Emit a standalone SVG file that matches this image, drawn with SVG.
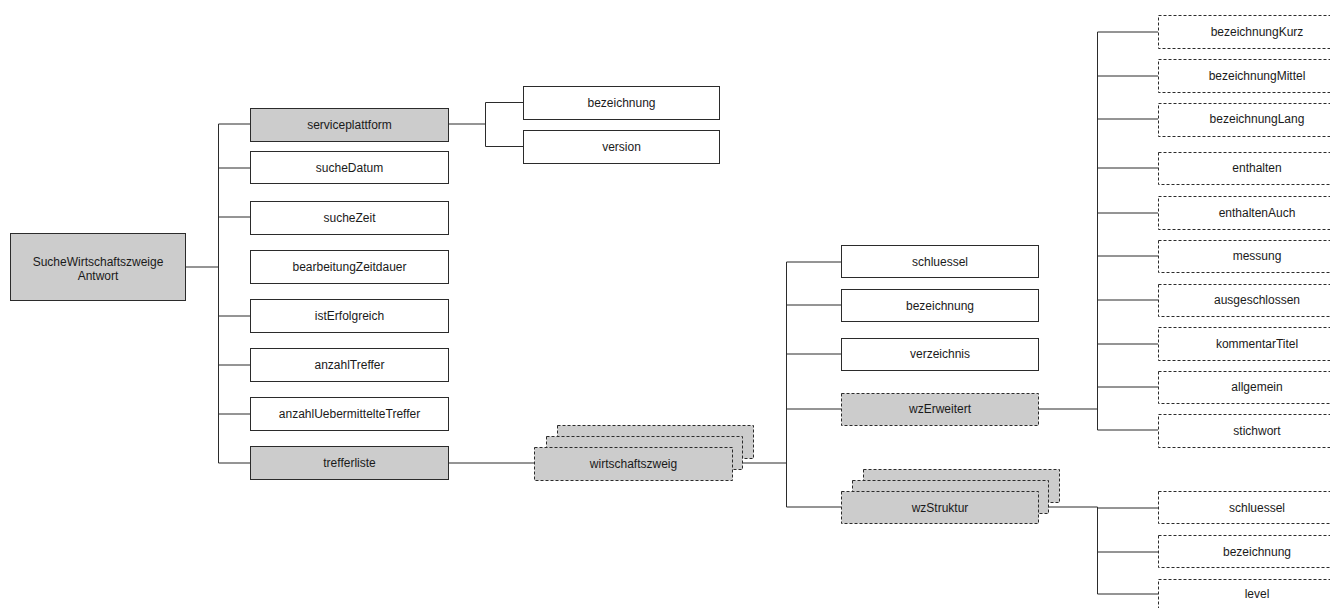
<svg xmlns="http://www.w3.org/2000/svg" width="1330" height="608" viewBox="0 0 1330 608">
<style>
.n rect{stroke:#2b2b2b;stroke-width:1}
.w{fill:#ffffff}
.g{fill:#cccccc}
.d{stroke-dasharray:3,2}
text{font-family:"Liberation Sans",Arial,sans-serif;font-size:12px;fill:#1a1a1a;text-anchor:middle}
#connectors path{fill:none;stroke:#2b2b2b;stroke-width:1}
</style>
<g id="connectors">
<path d="M185.5 267H218.5M218.5 124V463M218.5 124H250M218.5 168H250M218.5 217H250M218.5 316H250M218.5 365H250M218.5 414H250M218.5 463H250"/>
<path d="M448 124H485.5M485.5 102.5V146.5M485.5 102.5H523M485.5 146.5H523"/>
<path d="M448 463H534"/>
<path d="M732 463H786.5M786.5 262V507M786.5 262H841M786.5 305H841M786.5 354H841M786.5 409H841M786.5 507H841"/>
<path d="M1038 409H1097.5M1097.5 32V430M1097.5 32H1158M1097.5 76H1158M1097.5 119H1158M1097.5 168H1158M1097.5 213H1158M1097.5 256H1158M1097.5 300H1158M1097.5 344H1158M1097.5 387H1158M1097.5 430H1158"/>
<path d="M1048 507H1097.5M1097.5 507V594M1097.5 508H1158M1097.5 552H1158M1097.5 594H1158"/>
</g>
<g id="root" class="n"><rect class="g" x="10.5" y="233.5" width="175" height="67"/><text x="98" y="266">SucheWirtschaftszweige</text><text x="98" y="280">Antwort</text></g>
<g id="serviceplattform" class="n"><rect class="g" x="250.5" y="108.5" width="198" height="33"/><text x="349.5" y="129">serviceplattform</text></g>
<g id="sucheDatum" class="n"><rect class="w" x="250.5" y="151.5" width="198" height="32"/><text x="349.5" y="172">sucheDatum</text></g>
<g id="sucheZeit" class="n"><rect class="w" x="250.5" y="201.5" width="198" height="33"/><text x="349.5" y="222">sucheZeit</text></g>
<g id="bearbeitungZeitdauer" class="n"><rect class="w" x="250.5" y="250.5" width="198" height="33"/><text x="349.5" y="271">bearbeitungZeitdauer</text></g>
<g id="istErfolgreich" class="n"><rect class="w" x="250.5" y="299.5" width="198" height="33"/><text x="349.5" y="320">istErfolgreich</text></g>
<g id="anzahlTreffer" class="n"><rect class="w" x="250.5" y="348.5" width="198" height="33"/><text x="349.5" y="369">anzahlTreffer</text></g>
<g id="anzahlUebermittelteTreffer" class="n"><rect class="w" x="250.5" y="397.5" width="198" height="33"/><text x="349.5" y="418">anzahlUebermittelteTreffer</text></g>
<g id="trefferliste" class="n"><rect class="g" x="250.5" y="446.5" width="198" height="33"/><text x="349.5" y="467">trefferliste</text></g>
<g id="sp-bezeichnung" class="n"><rect class="w" x="523.5" y="86.5" width="196" height="33"/><text x="621.5" y="107">bezeichnung</text></g>
<g id="sp-version" class="n"><rect class="w" x="523.5" y="130.5" width="196" height="33"/><text x="621.5" y="151">version</text></g>
<g id="wirtschaftszweig" class="n"><rect class="g d" x="557.5" y="425.5" width="196" height="33"/><rect class="g d" x="546.5" y="436.5" width="196" height="33"/><rect class="g d" x="534.5" y="447.5" width="198" height="33"/><text x="633.5" y="468">wirtschaftszweig</text></g>
<g id="wz-schluessel" class="n"><rect class="w" x="841.5" y="245.5" width="197" height="32"/><text x="940" y="266">schluessel</text></g>
<g id="wz-bezeichnung" class="n"><rect class="w" x="841.5" y="289.5" width="197" height="32"/><text x="940" y="310">bezeichnung</text></g>
<g id="verzeichnis" class="n"><rect class="w" x="841.5" y="338.5" width="197" height="32"/><text x="940" y="358">verzeichnis</text></g>
<g id="wzErweitert" class="n"><rect class="g d" x="841.5" y="393.5" width="197" height="32"/><text x="940" y="413">wzErweitert</text></g>
<g id="wzStruktur" class="n"><rect class="g d" x="863.5" y="469.5" width="196" height="33"/><rect class="g d" x="852.5" y="480.5" width="196" height="33"/><rect class="g d" x="841.5" y="491.5" width="197" height="32"/><text x="940" y="512">wzStruktur</text></g>
<g id="bezeichnungKurz" class="n"><rect class="w d" x="1158.5" y="15.5" width="197" height="33"/><text x="1257" y="36">bezeichnungKurz</text></g>
<g id="bezeichnungMittel" class="n"><rect class="w d" x="1158.5" y="59.5" width="197" height="33"/><text x="1257" y="80">bezeichnungMittel</text></g>
<g id="bezeichnungLang" class="n"><rect class="w d" x="1158.5" y="103.5" width="197" height="33"/><text x="1257" y="123">bezeichnungLang</text></g>
<g id="enthalten" class="n"><rect class="w d" x="1158.5" y="152.5" width="197" height="32"/><text x="1257" y="172">enthalten</text></g>
<g id="enthaltenAuch" class="n"><rect class="w d" x="1158.5" y="196.5" width="197" height="33"/><text x="1257" y="217">enthaltenAuch</text></g>
<g id="messung" class="n"><rect class="w d" x="1158.5" y="240.5" width="197" height="32"/><text x="1257" y="260">messung</text></g>
<g id="ausgeschlossen" class="n"><rect class="w d" x="1158.5" y="284.5" width="197" height="32"/><text x="1257" y="304">ausgeschlossen</text></g>
<g id="kommentarTitel" class="n"><rect class="w d" x="1158.5" y="327.5" width="197" height="33"/><text x="1257" y="348">kommentarTitel</text></g>
<g id="allgemein" class="n"><rect class="w d" x="1158.5" y="371.5" width="197" height="32"/><text x="1257" y="391">allgemein</text></g>
<g id="stichwort" class="n"><rect class="w d" x="1158.5" y="414.5" width="197" height="33"/><text x="1257" y="435">stichwort</text></g>
<g id="st-schluessel" class="n"><rect class="w d" x="1158.5" y="491.5" width="197" height="32"/><text x="1257" y="512">schluessel</text></g>
<g id="st-bezeichnung" class="n"><rect class="w d" x="1158.5" y="535.5" width="197" height="32"/><text x="1257" y="556">bezeichnung</text></g>
<g id="level" class="n"><rect class="w d" x="1158.5" y="579.5" width="197" height="33"/><text x="1257" y="598">level</text></g>
</svg>
